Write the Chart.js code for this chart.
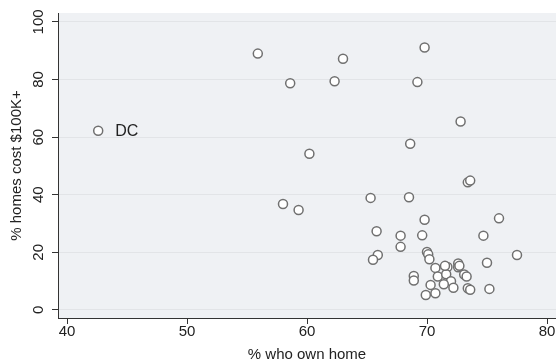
<!DOCTYPE html>
<html>
<head>
<meta charset="utf-8">
<script src="https://cdn.jsdelivr.net/npm/chart.js@4"></script>
<style>
  html, body { margin: 0; padding: 0; background: #fff; }
  #wrap { width: 556px; height: 364px; }
</style>
</head>
<body>
<div id="wrap"><canvas id="myChart" width="556" height="364"></canvas></div>
<script>
// % who own home (x) and % homes cost $100K+ (y), one entry per state + DC
const ownHome = [
    42.6, 55.9, 63.0, 69.8, 58.6, 62.3, 69.2, 72.8, 68.6, 60.2,
    73.4, 73.6, 65.3, 68.5, 58.0, 59.3, 65.8, 65.9, 65.5, 69.8,
    76.0, 67.8, 69.6, 74.7, 67.8, 77.5, 68.9, 68.9, 75.0, 75.2,
    70.0, 70.1, 70.2, 70.7, 71.7, 72.6, 72.6, 73.1, 73.3, 70.9,
    71.6, 72.0, 70.3, 71.4, 72.2, 73.4, 73.6, 70.7, 69.9, 72.7,
    71.5
];
const costOver100k = [
    62.2, 89.0, 87.2, 91.1, 78.7, 79.4, 79.1, 65.4, 57.7, 54.2,
    44.3, 44.9, 38.9, 39.1, 36.8, 34.7, 27.3, 19.1, 17.4, 31.3,
    31.8, 25.8, 25.9, 25.8, 21.9, 19.1, 11.8, 10.2, 16.4, 7.3,
    20.1, 19.3, 17.6, 14.6, 14.9, 16.1, 14.8, 12.3, 11.6, 11.6,
    12.4, 10.0, 8.7, 8.9, 7.7, 7.5, 7.0, 5.8, 5.2, 15.3,
    15.3
];
const pointNames = ['DC'];   // only the first point is labelled
const xTicks = [40, 50, 60, 70, 80];
const yTicks = [0, 20, 40, 60, 80, 100];

const font = '"Liberation Sans", Arial, Helvetica, sans-serif';
const points = ownHome.map((x, i) => ({x, y: costOver100k[i]}));

// plot region background + point name next to its marker
const extras = {
    id: 'extras',
    beforeDraw(chart) {
        const {ctx, chartArea: a} = chart;
        ctx.save();
        ctx.fillStyle = '#eff1f4';
        ctx.fillRect(a.left, a.top, a.right - a.left, a.bottom - a.top);
        ctx.restore();
    },
    afterDatasetsDraw(chart) {
        const {ctx, scales} = chart;
        ctx.save();
        ctx.font = '16px ' + font;
        ctx.fillStyle = '#222';
        ctx.textBaseline = 'middle';
        pointNames.forEach((name, i) => {
            const px = scales.x.getPixelForValue(ownHome[i]);
            const py = scales.y.getPixelForValue(costOver100k[i]);
            ctx.fillText(name, px + 17, py + 1);
        });
        ctx.restore();
    }
};

// keep the plot region fixed; labels may run to the canvas edge
function noPad(s) {
    s.paddingLeft = s.paddingRight = s.paddingTop = s.paddingBottom = 0;
}

new Chart(document.getElementById('myChart').getContext('2d'), {
    type: 'scatter',
    data: {
        datasets: [{
            data: points,
            pointRadius: 4.5,
            pointHoverRadius: 4.5,
            pointBorderWidth: 1.5,
            borderColor: '#707070',
            backgroundColor: '#ffffff'
        }]
    },
    plugins: [extras],
    options: {
        responsive: false,
        animation: false,
        layout: { autoPadding: false, padding: { left: 0, right: 0, top: 13, bottom: 0 } },
        plugins: {
            legend: { display: false },
            tooltip: { enabled: false }
        },
        scales: {
            x: {
                type: 'linear',
                min: 39.25,
                max: 80.75,
                afterBuildTicks: s => { s.ticks = xTicks.map(v => ({value: v})); },
                afterFit: s => { s.height = 46; noPad(s); },
                grid: { drawOnChartArea: false, tickLength: 6, tickColor: '#333', tickWidth: 1 },
                border: { display: true, color: '#333', width: 1 },
                ticks: { color: '#222', padding: -1, font: { family: font, size: 15 } },
                title: {
                    display: true,
                    text: '% who own home',
                    color: '#222',
                    padding: { top: 0, bottom: 0 },
                    font: { family: font, size: 15 }
                }
            },
            y: {
                type: 'linear',
                min: -2.8,
                max: 103.1,
                afterBuildTicks: s => { s.ticks = yTicks.map(v => ({value: v})); },
                afterFit: s => { s.width = 58; noPad(s); },
                grid: { color: '#e2e4e7', tickLength: 6, tickColor: '#333', tickWidth: 1 },
                border: { display: true, color: '#333', width: 1 },
                ticks: {
                    color: '#222',
                    padding: 1,
                    minRotation: 90,
                    maxRotation: 90,
                    crossAlign: 'center',
                    font: { family: font, size: 15 }
                },
                title: {
                    display: true,
                    text: '% homes cost $100K+',
                    color: '#222',
                    padding: { top: 8, bottom: 0 },
                    font: { family: font, size: 15 }
                }
            }
        }
    }
});
</script>
</body>
</html>
